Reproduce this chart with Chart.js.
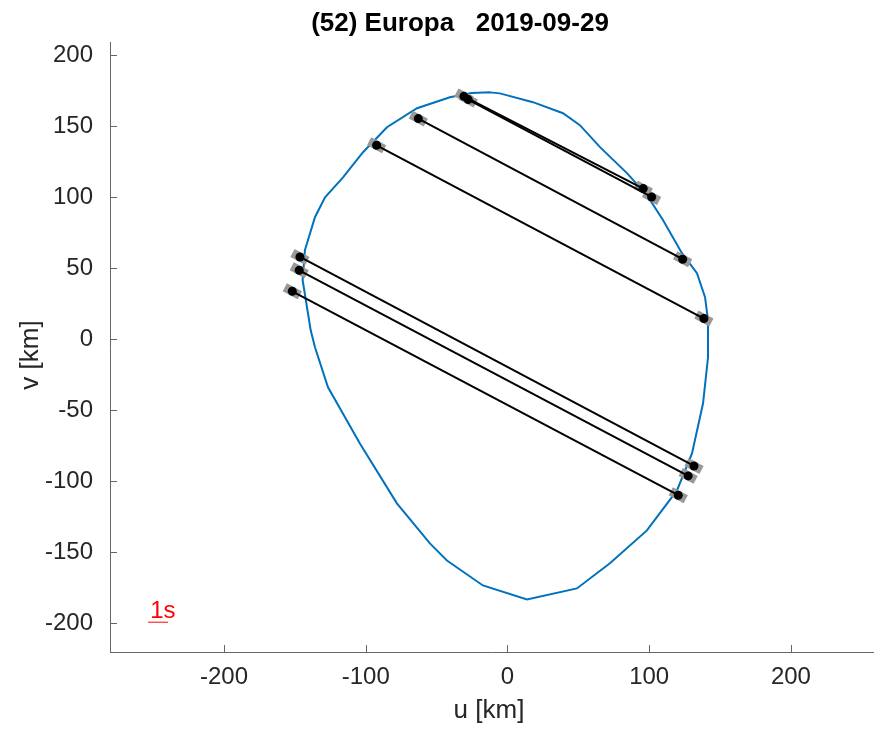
<!DOCTYPE html>
<html>
<head>
<meta charset="utf-8">
<title>(52) Europa 2019-09-29</title>
<script src="https://cdn.jsdelivr.net/npm/chart.js@4/dist/chart.umd.min.js"></script>
<style>
  html, body { margin: 0; padding: 0; background: #ffffff; overflow: hidden; }
  #wrap { width: 874px; height: 729px; }
  canvas { display: block; }
</style>
</head>
<body>
<div id="wrap"><canvas id="c" width="874" height="729"></canvas></div>
<script>
// Fitted asteroid profile (km, sky-plane u/v)
const outlineU = [-12.3, -5.3, 18.0, 39.2, 51.1, 65.3, 84.3, 98.4, 109.7, 123.1, 133.7, 139.4, 141.5, 141.5,
  138.0, 130.2, 119.6, 98.4, 72.3, 49.0, 13.8, -17.3, -42.7, -54.7, -78.0, -104.1, -126.6, -135.8,
  -138.8, -144.5, -142.9, -135.8, -128.7, -116.0, -101.9, -85.0, -63.8, -40.6, -25.3];
const outlineV = [173.9, 173.2, 167.0, 159.2, 150.8, 135.3, 117.0, 101.5, 83.9, 60.6, 46.5, 29.6, 13.3, -12.8,
  -45.2, -80.5, -106.6, -134.8, -158.0, -175.7, -183.5, -173.6, -156.0, -144.0, -115.7, -73.5, -34.0, -5.7,
  6.2, 41.5, 62.6, 85.9, 100.0, 114.0, 131.7, 149.3, 162.7, 170.4, 173.5];

// Observed chords: disappearance (u1,v1) and reappearance (u2,v2)
const chordU1 = [-30.7, -27.7, -62.9, -92.3, -146.4, -146.9, -151.8];
const chordV1 = [171.1, 168.8, 155.4, 136.6, 57.9, 48.5, 33.7];
const chordU2 = [95.8, 101.7, 123.6, 138.6, 131.6, 127.5, 120.5];
const chordV2 = [106.1, 100.2, 56.3, 14.5, -89.4, -96.4, -110.0];
// Timing uncertainty along the chord (km, half-length)
const chordErr1 = [6.0, 6.0, 6.0, 6.0, 6.0, 6.0, 6.0];
const chordErr2 = [6.0, 6.0, 6.0, 6.0, 6.0, 6.0, 6.0];

// One-second scale bar
const scaleBarU = [-253.5, -239.4];
const scaleBarV = -199.5;
const scaleBarLabel = '1s';

// Axis ticks and titles
const xTicks = [-200, -100, 0, 100, 200];
const yTicks = [-200, -150, -100, -50, 0, 50, 100, 150, 200];
const plotTitle = '(52) Europa   2019-09-29';
const xTitle = 'u [km]';
const yTitle = 'v [km]';

const X_MIN = -280.4, X_MAX = 258.6;
const Y_MIN = -220.5, Y_MAX = 209.4;

const FONT = '"Liberation Sans", Arial, Helvetica, sans-serif';
const TEXT_COLOR = '#262626';
const AXIS_COLOR = '#666666';

const datasets = [];

// outline
const outlinePts = outlineU.map((u, i) => ({ x: u, y: outlineV[i] }));
outlinePts.push({ x: outlineU[0], y: outlineV[0] });
datasets.push({
  data: outlinePts, showLine: true, borderColor: '#0072BD', borderWidth: 2,
  pointRadius: 0, fill: false, tension: 0, order: 4
});

// error bars along each chord direction at both ends
chordU1.forEach((u1, i) => {
  const v1 = chordV1[i], u2 = chordU2[i], v2 = chordV2[i];
  const len = Math.hypot(u2 - u1, v2 - v1);
  const eu = (u2 - u1) / len, ev = (v2 - v1) / len;
  [[u1, v1, chordErr1[i]], [u2, v2, chordErr2[i]]].forEach(([pu, pv, d]) => {
    datasets.push({
      data: [{ x: pu - eu * d, y: pv - ev * d }, { x: pu + eu * d, y: pv + ev * d }],
      showLine: true, borderColor: '#999999', borderWidth: 9, borderCapStyle: 'butt',
      pointRadius: 0, order: 3
    });
  });
});

// chords with end points
chordU1.forEach((u1, i) => {
  datasets.push({
    data: [{ x: u1, y: chordV1[i] }, { x: chordU2[i], y: chordV2[i] }],
    showLine: true, borderColor: '#000000', borderWidth: 2,
    pointRadius: 4.5, pointBackgroundColor: '#000000', pointBorderWidth: 0,
    order: 2
  });
});

// scale bar
datasets.push({
  data: [{ x: scaleBarU[0], y: scaleBarV }, { x: scaleBarU[1], y: scaleBarV }],
  showLine: true, borderColor: '#FF0000', borderWidth: 1,
  pointRadius: 0, order: 1
});

// inward ticks, titles and scale-bar label
const decor = {
  id: 'decor',
  afterDraw(chart) {
    const ctx = chart.ctx;
    const xs = chart.scales.x, ys = chart.scales.y;
    const area = chart.chartArea;
    ctx.save();
    ctx.strokeStyle = AXIS_COLOR;
    ctx.lineWidth = 1;
    ctx.beginPath();
    xTicks.forEach(t => {
      const px = Math.round(xs.getPixelForValue(t)) + 0.5;
      ctx.moveTo(px, area.bottom);
      ctx.lineTo(px, area.bottom - 7);
    });
    yTicks.forEach(t => {
      const py = Math.round(ys.getPixelForValue(t)) + 0.5;
      ctx.moveTo(area.left, py);
      ctx.lineTo(area.left + 7, py);
    });
    ctx.stroke();

    // title
    ctx.fillStyle = '#000000';
    ctx.font = 'bold 26px ' + FONT;
    ctx.textAlign = 'center';
    ctx.textBaseline = 'alphabetic';
    ctx.fillText(plotTitle, 460, 31);

    // axis titles
    ctx.fillStyle = TEXT_COLOR;
    ctx.font = '26px ' + FONT;
    ctx.fillText(xTitle, 489, 718);
    ctx.save();
    ctx.translate(38, 355);
    ctx.rotate(-Math.PI / 2);
    ctx.fillText(yTitle, 0, 0);
    ctx.restore();

    // scale bar label
    ctx.fillStyle = '#FF0000';
    ctx.font = '24px ' + FONT;
    ctx.textAlign = 'left';
    ctx.fillText(scaleBarLabel, xs.getPixelForValue(scaleBarU[0]) + 2, ys.getPixelForValue(scaleBarV) - 4);
    ctx.restore();
  }
};

new Chart(document.getElementById('c').getContext('2d'), {
  type: 'scatter',
  data: { datasets },
  options: {
    responsive: false,
    animation: false,
    devicePixelRatio: 1,
    layout: { autoPadding: false, padding: { top: 42, left: 0, right: 0, bottom: 0 } },
    plugins: { legend: { display: false }, tooltip: { enabled: false }, title: { display: false } },
    scales: {
      x: {
        type: 'linear', min: X_MIN, max: X_MAX,
        afterFit: s => { s.height = 77; s.paddingLeft = 0; s.paddingRight = 0; },
        afterBuildTicks: s => { s.ticks = xTicks.map(v => ({ value: v })); },
        grid: { display: false, drawTicks: false },
        border: { display: true, color: AXIS_COLOR, width: 1 },
        ticks: { color: TEXT_COLOR, font: { family: FONT, size: 24 }, padding: 11, maxRotation: 0, autoSkip: false }
      },
      y: {
        type: 'linear', min: Y_MIN, max: Y_MAX,
        afterFit: s => { s.width = 110; s.paddingTop = 0; s.paddingBottom = 0; },
        afterBuildTicks: s => { s.ticks = yTicks.map(v => ({ value: v })); },
        grid: { display: false, drawTicks: false },
        border: { display: true, color: AXIS_COLOR, width: 1 },
        ticks: { color: TEXT_COLOR, font: { family: FONT, size: 24 }, padding: 17, autoSkip: false }
      }
    }
  },
  plugins: [decor]
});
</script>
</body>
</html>
